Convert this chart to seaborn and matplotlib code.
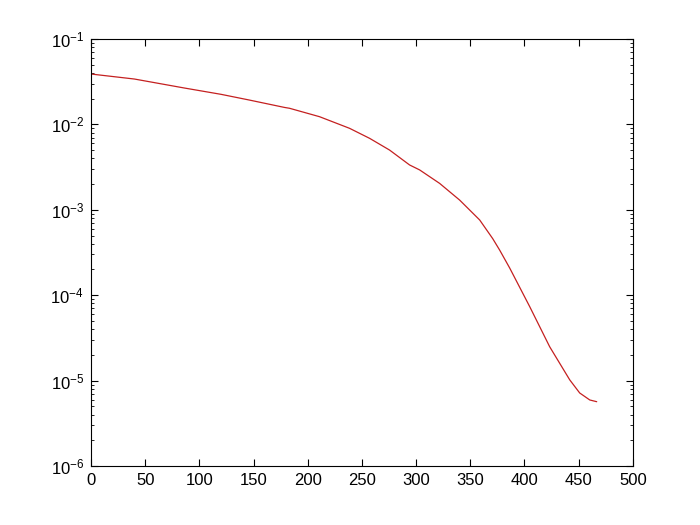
import matplotlib
matplotlib.use("Agg")
import matplotlib.pyplot as plt
import seaborn as sns
import pandas as pd
from matplotlib.ticker import LogLocator, LogFormatterMathtext

# Data
iteration = [0, 40, 86, 120, 146, 178.6, 183.2, 210.9, 238.6, 257.1, 275.5, 294.0,
             303.3, 321.7, 340.2, 358.7, 370.7, 377.1, 386.4, 404.9, 423.3, 441.8,
             451.0, 460.3, 466.7]
error = [0.0389, 0.0340, 0.0267, 0.0225, 0.0193, 0.0158, 0.01545, 0.01231, 0.00900,
         0.00687, 0.00501, 0.00335, 0.00293, 0.00204, 0.00130, 7.60e-4, 4.6e-4,
         3.38e-4, 2.08e-4, 7.33e-5, 2.49e-5, 1.02e-5, 7.16e-6, 5.93e-6, 5.66e-6]
x_ticks = [0, 50, 100, 150, 200, 250, 300, 350, 400, 450, 500]

sns.set_theme(style="white")
plt.rcParams['font.family'] = ['Liberation Sans', 'DejaVu Sans']
plt.rcParams['mathtext.fontset'] = 'custom'
plt.rcParams['mathtext.rm'] = 'Liberation Sans'
plt.rcParams['mathtext.it'] = 'Liberation Sans'
plt.rcParams['mathtext.bf'] = 'Liberation Sans'

df = pd.DataFrame({"iteration": iteration, "error": error})

fig = plt.figure(figsize=(7, 5.25), dpi=100)
ax = fig.add_axes([0.13, 0.1124, 0.774, 0.8133])
sns.lineplot(data=df, x="iteration", y="error", ax=ax, color="#c42020", linewidth=0.9)

ax.set_yscale("log")
ax.set_xlim(0, 500)
ax.set_ylim(1e-6, 1e-1)
ax.set_xticks(x_ticks)
ax.set_xticklabels([str(t) for t in x_ticks])
ax.yaxis.set_major_locator(LogLocator(base=10, numticks=10))
ax.yaxis.set_minor_locator(LogLocator(base=10, subs=range(2, 10), numticks=100))
ax.yaxis.set_major_formatter(LogFormatterMathtext())
ax.set_xlabel("")
ax.set_ylabel("")

for s in ax.spines.values():
    s.set_color("black")
    s.set_linewidth(0.8)
    s.set_visible(True)

ax.tick_params(axis="both", which="major", direction="in", length=5, width=0.8,
               top=True, right=True, bottom=True, left=True, labelsize=12,
               colors="black", pad=5)
ax.tick_params(axis="y", which="minor", direction="in", length=2.5, width=0.6,
               left=True, right=True, colors="black")
ax.tick_params(axis="x", which="minor", bottom=False, top=False)
ax.grid(False)

fig.savefig("out.png", dpi=100, facecolor="white")
